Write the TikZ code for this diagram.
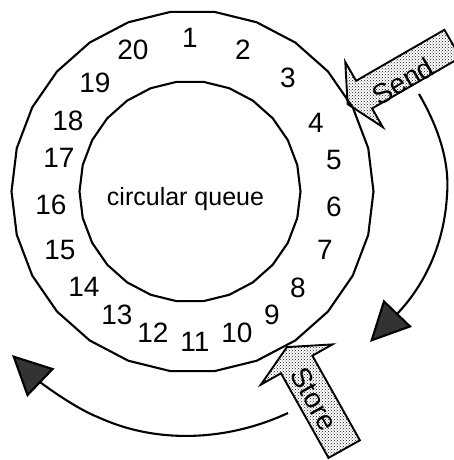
\documentclass[tikz,border=0pt]{standalone}
\usepackage{fontspec}
\setmainfont{Liberation Sans}
\usetikzlibrary{arrows.meta,patterns,shapes.geometric}
\begin{document}
\begin{tikzpicture}[x=1pt,y=-1pt,
  ring/.style={regular polygon, regular polygon sides=26, draw, line width=2.1pt, inner sep=0pt},
  num/.style={inner sep=0pt, font=\fontsize{28}{30}\selectfont},
  blockarrow/.style={draw, line width=1.9pt, line join=miter, pattern=crosshatch dots, pattern color=black!90},
  flow/.style={line width=2.1pt, -{Triangle[length=40pt,width=39pt,fill=black!80]}},
  lbl/.style={inner sep=0pt, font=\fontsize{28}{30}\selectfont},
]
\useasboundingbox (0,0) rectangle (454,460);
\clip (0,0) rectangle (454,460);
\fill[white] (0,0) rectangle (454,460);

% rings
\node[ring, minimum size=362pt] (outer) at (192.5,191.5) {};
\node[ring, minimum size=221pt] (inner) at (190,191.5) {};
\node[inner sep=0pt, font=\fontsize{25}{27}\selectfont] (title) at (185.5,199) {circular queue};

% slot numbers
\foreach \i/\x/\y in {1/190/38, 2/243/50, 3/288/78, 4/316/123, 5/334/160,
  6/334/207, 7/325/250, 8/298/288, 9/272/315, 10/237/333,
  11/195/342, 12/153/333, 13/117/315, 14/84/287, 15/60/250,
  16/51/205, 17/59/158, 18/68/121, 19/95/83, 20/133/50}
  \node[num] (n\i) at (\x,\y) {\i};

% Send block arrow
\path[blockarrow] (347.6,104.1) -- (345.3,62.1) -- (356.1,80.8) -- (444.4,29.8)
  -- (460.4,57.5) -- (372.1,108.5) -- (382.8,127.1) -- cycle;
\node[lbl, rotate=30] (send) at (403,81) {Send};

% Store block arrow
\path[blockarrow] (286.9,347.1) -- (332.4,344.4) -- (312.4,355.7) -- (359.9,440.3)
  -- (328.5,457.9) -- (281,373.3) -- (260.9,384.6) -- cycle;
\node[lbl, rotate=-60.7] (store) at (314,399) {Store};

% flow arrows
\coordinate (sendstart) at (419,94);
\coordinate (sendend) at (370,342);
\draw[flow] (sendstart) .. controls (437,125) and (450,160) .. (447,195)
  .. controls (444,250) and (420,290) .. (sendend);

\coordinate (storestart) at (288,413);
\coordinate (storeend) at (12,355);
\draw[flow] (storestart) .. controls (230,440) and (160,445) .. (100,418)
  .. controls (74,408) and (40,382) .. (storeend);
\end{tikzpicture}
\end{document}
